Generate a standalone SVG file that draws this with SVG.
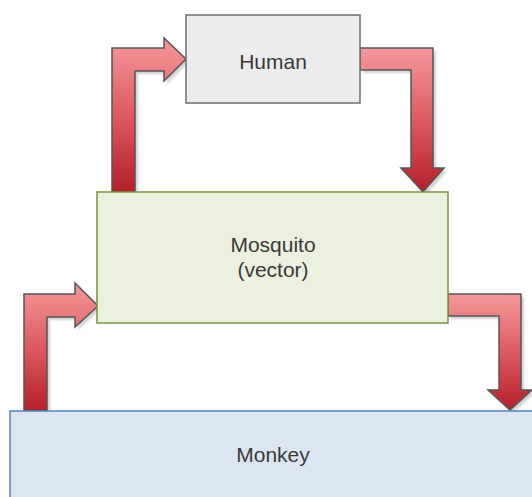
<svg xmlns="http://www.w3.org/2000/svg" width="532" height="497" viewBox="0 0 532 497">
  <defs>
    <linearGradient id="redFlow" x1="0" y1="0" x2="0" y2="1">
      <stop offset="0" stop-color="#f4989b"/>
      <stop offset="0.5" stop-color="#de5a5f"/>
      <stop offset="1" stop-color="#b51f27"/>
    </linearGradient>
    <filter id="soft" x="-10%" y="-10%" width="130%" height="130%">
      <feGaussianBlur stdDeviation="1"/>
    </filter>
  </defs>
  <style>
    .box-human { fill: #ececec; stroke: #6e6e6e; stroke-width: 1.5; }
    .box-mosquito { fill: #ebf1de; stroke: #77933c; stroke-width: 1.5; }
    .box-monkey { fill: #dce6f2; stroke: #4f81bd; stroke-width: 1.5; }
    .label { font-family: "Liberation Sans", Arial, sans-serif; font-size: 21px; fill: #3a3a3a; text-anchor: middle; }
    .flow { fill: url(#redFlow); stroke: #555555; stroke-width: 1.5; stroke-linejoin: miter; }
    .flow-shadow { fill: #9a9a9a; opacity: 0.45; filter: url(#soft); }
  </style>

  <rect width="532" height="497" fill="#ffffff"/>

  <!-- Transmission arrows -->
  <g id="connectors">
    <g id="monkey-to-mosquito">
      <path class="flow-shadow" transform="translate(3,3)" d="M24,411 L24,294 L75,294 L75,283 L98,306 L75,327 L75,317 L47,317 L47,411 Z"/>
      <path class="flow" d="M24,411 L24,294 L75,294 L75,283 L98,306 L75,327 L75,317 L47,317 L47,411 Z"/>
    </g>
    <g id="mosquito-to-human">
      <path class="flow-shadow" transform="translate(3,3)" d="M112,192 L112,48 L164,48 L164,38 L186,59 L164,81 L164,71 L135,71 L135,192 Z"/>
      <path class="flow" d="M112,192 L112,48 L164,48 L164,38 L186,59 L164,81 L164,71 L135,71 L135,192 Z"/>
    </g>
    <g id="human-to-mosquito">
      <path class="flow-shadow" transform="translate(3,3)" d="M360,48 L433,48 L433,168 L444,168 L423,192 L401,168 L411,168 L411,70 L360,70 Z"/>
      <path class="flow" d="M360,48 L433,48 L433,168 L444,168 L423,192 L401,168 L411,168 L411,70 L360,70 Z"/>
    </g>
    <g id="mosquito-to-monkey">
      <path class="flow-shadow" transform="translate(3,3)" d="M448,294 L521,294 L521,390 L532,390 L510,410 L488,390 L499,390 L499,316 L448,316 Z"/>
      <path class="flow" d="M448,294 L521,294 L521,390 L532,390 L510,410 L488,390 L499,390 L499,316 L448,316 Z"/>
    </g>
  </g>

  <g id="human">
    <rect class="box-human" x="186" y="15" width="174" height="88"/>
    <text class="label" x="273" y="69">Human</text>
  </g>

  <g id="mosquito">
    <rect class="box-mosquito" x="97" y="192" width="351" height="131"/>
    <text class="label" x="273" y="252">Mosquito</text>
    <text class="label" x="273" y="277">(vector)</text>
  </g>

  <g id="monkey">
    <rect class="box-monkey" x="10" y="411" width="530" height="95"/>
    <text class="label" x="273" y="462">Monkey</text>
  </g>
</svg>
